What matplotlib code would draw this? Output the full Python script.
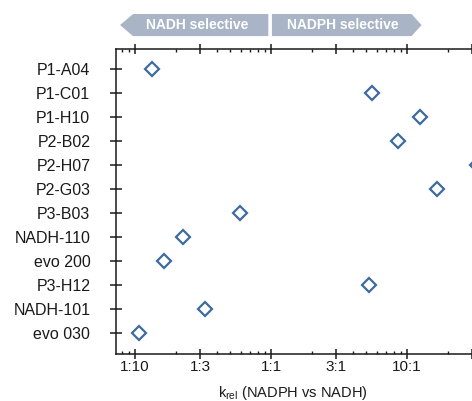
import numpy as np
import matplotlib
matplotlib.use("Agg")
import matplotlib.pyplot as plt
import matplotlib.transforms as mtransforms
from matplotlib.patches import Polygon
from matplotlib.ticker import FixedLocator, FixedFormatter, LogLocator, NullFormatter

plt.rcParams["font.family"] = ["Liberation Sans", "DejaVu Sans"]

variants = ["P1-A04", "P1-C01", "P1-H10", "P2-B02", "P2-H07", "P2-G03",
            "P3-B03", "NADH-110", "evo 200", "P3-H12", "NADH-101", "evo 030"]
k_rel = [0.133, 5.56, 12.5, 8.63, 33.0, 16.5,
         0.589, 0.224, 0.163, 5.28, 0.329, 0.1076]

tick_values = [0.1, 0.3, 1, 3, 10, 30]
tick_labels = ["1:10", "1:3", "1:1", "3:1", "10:1", ""]

blue = "#3d6c9c"
band = "#a9b4c6"
ink = "#1a1a1a"

fig = plt.figure(figsize=(4.72, 4.01), dpi=100)
ax = fig.add_axes([0.2451, 0.1172, 0.8185, 0.7598])

y = np.arange(len(variants))
ax.plot(k_rel, y, linestyle="none", marker="D", ms=7, mfc="white",
        mec=blue, mew=1.6, clip_on=False, zorder=5)

ax.set_xscale("log")
ax.set_xlim(0.072, 50)
ax.set_ylim(len(variants) - 0.11, -0.82)
ax.set_yticks(y, variants)

ax.xaxis.set_major_locator(FixedLocator(tick_values))
ax.xaxis.set_major_formatter(FixedFormatter(tick_labels))
ax.xaxis.set_minor_locator(LogLocator(base=10, subs=np.arange(2, 10)))
ax.xaxis.set_minor_formatter(NullFormatter())

ax.tick_params(axis="x", which="major", direction="inout", length=7.2,
               width=1.1, top=True, labelsize=11, pad=1, colors=ink)
ax.tick_params(axis="x", which="minor", direction="in", length=2.5,
               width=1.0, top=True, colors=ink)
ax.tick_params(axis="y", which="major", direction="inout", length=8.6,
               width=1.1, labelsize=11.5, pad=14, colors=ink)

for side in ["left", "bottom", "top"]:
    ax.spines[side].set_linewidth(1.1)
    ax.spines[side].set_color(ink)
ax.spines["right"].set_visible(False)

ax.set_xlabel("k$_{\\mathregular{rel}}$ (NADPH vs NADH)", fontsize=10.5, color=ink)
ax.xaxis.set_label_coords(0.458, -0.098)

# selectivity banner above the plot
trans = mtransforms.blended_transform_factory(ax.transData, fig.transFigure)
y_top, y_bot = 0.965, 0.910
y_mid = (y_top + y_bot) / 2
left_arrow = Polygon([(0.0775, y_mid), (0.0966, y_top), (0.955, y_top),
                      (0.955, y_bot), (0.0966, y_bot)],
                     closed=True, transform=trans, facecolor=band,
                     edgecolor="none", clip_on=False, zorder=6)
right_arrow = Polygon([(1.015, y_top), (10.8, y_top), (12.8, y_mid),
                       (10.8, y_bot), (1.015, y_bot)],
                      closed=True, transform=trans, facecolor=band,
                      edgecolor="none", clip_on=False, zorder=6)
ax.add_patch(left_arrow)
ax.add_patch(right_arrow)
ax.text(0.284, y_mid, "NADH selective", transform=trans, ha="center",
        va="center", color="white", fontsize=10, fontweight="bold", zorder=7)
ax.text(3.38, y_mid, "NADPH selective", transform=trans, ha="center",
        va="center", color="white", fontsize=10, fontweight="bold", zorder=7)

fig.savefig("out.png", dpi=100)
